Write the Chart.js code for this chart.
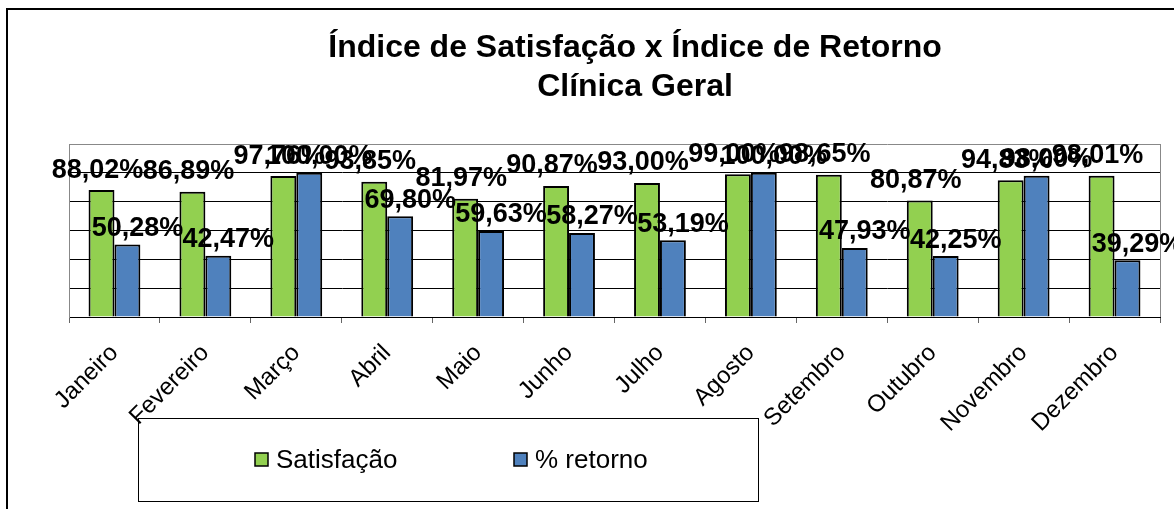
<!DOCTYPE html>
<html>
<head>
<meta charset="utf-8">
<script src="https://cdn.jsdelivr.net/npm/chart.js@4"></script>
<style>
  body { margin: 0; background: #fff; }
  #wrap { position: relative; width: 1174px; height: 509px; overflow: hidden; }
  #frame { position: absolute; left: 6px; top: 8px; right: -10px; bottom: -10px;
           border-top: 2px solid #000; border-left: 2px solid #000; pointer-events: none; }
  canvas { position: absolute; left: 0; top: 0; }
</style>
</head>
<body>
<div id="wrap">
  <canvas id="chart" width="1174" height="509"></canvas>
  <div id="frame"></div>
</div>
<script>
const months = ["Janeiro", "Fevereiro", "Março", "Abril", "Maio", "Junho",
                "Julho", "Agosto", "Setembro", "Outubro", "Novembro", "Dezembro"];
const satisfacao = [88.02, 86.89, 97.76, 93.85, 81.97, 90.87, 93.00, 99.00, 98.65, 80.87, 94.83, 98.01];
const retorno = [50.28, 42.47, 100.00, 69.80, 59.63, 58.27, 53.19, 100.00, 47.93, 42.25, 98.00, 39.29];
const titleLines = ["Índice de Satisfação x Índice de Retorno", "Clínica Geral"];

const FONT = "'Liberation Sans', Arial, sans-serif";
const GREEN = "#92D050";
const BLUE = "#4F81BD";

const fmt = v => v.toFixed(2).replace(".", ",") + "%";

// legend box sits under the axis labels, so it is drawn before the scales
const legendBox = {
    id: "legendBox",
    beforeDraw(chart) {
        const c = chart.ctx;
        c.save();
        c.strokeStyle = "#000";
        c.lineWidth = 1;
        c.strokeRect(138.5, 418.5, 620, 83);
        const items = [[255, 276], [514, 535]];
        chart.data.datasets.forEach((ds, i) => {
            const [sx, tx] = items[i];
            c.fillStyle = ds.backgroundColor;
            c.fillRect(sx, 453, 13, 13);
            c.lineWidth = 1.5;
            c.strokeRect(sx, 453, 13, 13);
            c.fillStyle = "#000";
            c.font = "26px " + FONT;
            c.textBaseline = "middle";
            c.textAlign = "left";
            c.fillText(ds.label, tx, 461);
        });
        c.restore();
    }
};

const extras = {
    id: "extras",
    beforeDatasetsDraw(chart) {
        const c = chart.ctx, a = chart.chartArea;
        c.save();
        c.strokeStyle = "#888";
        c.lineWidth = 1;
        c.beginPath();
        c.moveTo(a.right + 0.5, a.top);
        c.lineTo(a.right + 0.5, a.bottom);
        c.stroke();
        c.restore();
    },
    afterDraw(chart) {
        const c = chart.ctx;
        c.save();
        c.fillStyle = "#000";
        c.textAlign = "center";
        c.textBaseline = "middle";
        c.font = "bold 32px " + FONT;
        titleLines.forEach((t, i) => c.fillText(t, 635, 48 + i * 39));

        c.font = "bold 27px " + FONT;
        const offs = [[-4, -20], [10, -16]];
        chart.data.datasets.forEach((ds, i) => {
            chart.getDatasetMeta(i).data.forEach((bar, j) => {
                c.fillText(fmt(ds.data[j]), bar.x + offs[i][0], bar.y + offs[i][1]);
            });
        });
        c.restore();
    }
};

new Chart("chart", {
    type: "bar",
    data: {
        labels: months,
        datasets: [
            { label: "Satisfação", data: satisfacao, backgroundColor: GREEN,
              borderColor: "#000", borderWidth: 2 },
            { label: "% retorno", data: retorno, backgroundColor: BLUE,
              borderColor: "#000", borderWidth: 2 }
        ]
    },
    options: {
        responsive: false,
        animation: false,
        layout: { padding: { left: 69, right: 14, top: 144, bottom: 0 } },
        datasets: { bar: { categoryPercentage: 0.57, barPercentage: 1 } },
        plugins: { legend: { display: false }, title: { display: false }, tooltip: { enabled: false } },
        scales: {
            x: {
                afterFit: s => { s.height = 192; },
                grid: { drawOnChartArea: false, drawTicks: true, tickLength: 6, color: "#666" },
                border: { color: "#000" },
                ticks: { color: "#000", font: { family: FONT, size: 24 },
                         minRotation: 45, maxRotation: 45, padding: 16 }
            },
            y: {
                min: 0, max: 120,
                afterFit: s => { s.width = 0; },
                ticks: { display: false, stepSize: 20 },
                grid: { drawTicks: false, color: ctx => ctx.tick && ctx.tick.value === 120 ? "#888" : "#000" },
                border: { color: "#888" }
            }
        }
    },
    plugins: [legendBox, extras]
});
</script>
</body>
</html>
